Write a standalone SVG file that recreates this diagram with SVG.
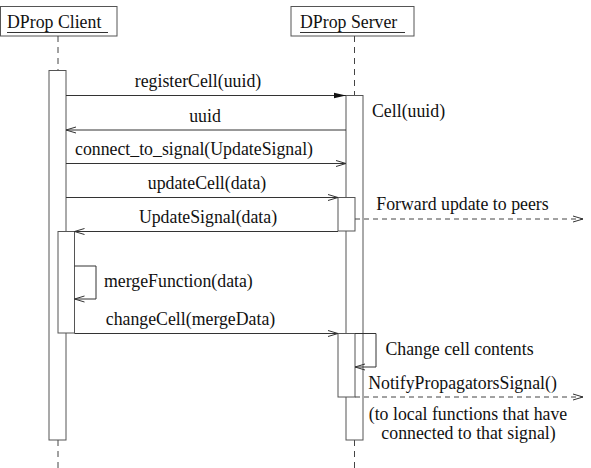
<svg xmlns="http://www.w3.org/2000/svg" width="591" height="468" viewBox="0 0 591 468">
<style>
text{font-family:"Liberation Serif","Times New Roman",serif;font-size:17.8px;fill:#111}
.box{fill:#fff;stroke:#555;stroke-width:1}
.act{fill:#fff;stroke:#555;stroke-width:1}
.life{stroke:#444;stroke-width:1;stroke-dasharray:6 5;fill:none}
.msg{stroke:#333;stroke-width:1;fill:none}
.dash{stroke:#444;stroke-width:1;fill:none;stroke-dasharray:5 4}
.ul{stroke:#333;stroke-width:1}
</style>
<defs>
<marker id="open" markerUnits="userSpaceOnUse" markerWidth="12" markerHeight="8" refX="11" refY="4" orient="auto">
<path d="M1,1 L11,4 L1,7" fill="none" stroke="#333" stroke-width="1"/>
</marker>
<marker id="filled" markerUnits="userSpaceOnUse" markerWidth="13" markerHeight="8" refX="12" refY="4" orient="auto">
<path d="M0,1.3 L12,4 L0,6.7 Z" fill="#111" stroke="none"/>
</marker>
</defs>
<rect width="591" height="468" fill="#fff"/>
<g id="client">
<rect class="box" x="0.5" y="6.5" width="116.5" height="29.5"/>
<text x="7" y="28">DProp Client</text>
<line class="ul" x1="7" y1="32.5" x2="108" y2="32.5"/>
<line class="life" x1="58" y1="36" x2="58" y2="70"/>
<line class="life" x1="58" y1="440" x2="58" y2="468"/>
<rect class="act" x="49" y="70.5" width="17" height="369.5"/>
<rect class="act" x="58" y="231.5" width="16.5" height="101.5"/>
</g>
<g id="server">
<rect class="box" x="291" y="6.5" width="123" height="29.5"/>
<text x="300" y="28">DProp Server</text>
<line class="ul" x1="300" y1="32.5" x2="405" y2="32.5"/>
<line class="life" x1="354.5" y1="36" x2="354.5" y2="95"/>
<line class="life" x1="354.5" y1="440" x2="354.5" y2="468"/>
<rect class="act" x="346" y="95.5" width="17" height="344.5"/>
<rect class="act" x="338" y="197.5" width="17" height="33.5"/>
<rect class="act" x="338" y="333.5" width="17" height="63.5"/>
</g>
<g id="connectors">
<line class="msg" x1="66" y1="95.5" x2="346" y2="95.5" marker-end="url(#filled)"/>
<line class="msg" x1="346" y1="130" x2="66" y2="130" marker-end="url(#open)"/>
<line class="msg" x1="66" y1="163.5" x2="346" y2="163.5" marker-end="url(#open)"/>
<line class="msg" x1="66" y1="197.5" x2="338" y2="197.5" marker-end="url(#open)"/>
<line class="msg" x1="338" y1="231.5" x2="74.5" y2="231.5" marker-end="url(#open)"/>
<line class="dash" x1="355" y1="219" x2="583" y2="219" marker-end="url(#open)"/>
<polyline class="msg" points="74.5,266 96,266 96,299 74.5,299" marker-end="url(#open)"/>
<line class="msg" x1="74.5" y1="333.5" x2="338" y2="333.5" marker-end="url(#open)"/>
<polyline class="msg" points="355,333.5 376,333.5 376,367 355,367" marker-end="url(#open)"/>
<line class="dash" x1="355" y1="397" x2="583" y2="397" marker-end="url(#open)"/>
</g>
<g id="labels">
<text x="198" y="87" text-anchor="middle">registerCell(uuid)</text>
<text x="205" y="121.5" text-anchor="middle">uuid</text>
<text x="194" y="155" text-anchor="middle">connect_to_signal(UpdateSignal)</text>
<text x="207" y="189" text-anchor="middle">updateCell(data)</text>
<text x="208" y="223" text-anchor="middle">UpdateSignal(data)</text>
<text x="104" y="287">mergeFunction(data)</text>
<text x="190.5" y="325" text-anchor="middle">changeCell(mergeData)</text>
<text x="372" y="117">Cell(uuid)</text>
<text x="462.5" y="210" text-anchor="middle">Forward update to peers</text>
<text x="459.5" y="355" text-anchor="middle">Change cell contents</text>
<text x="462.5" y="389" text-anchor="middle">NotifyPropagatorsSignal()</text>
<text x="468" y="420" text-anchor="middle">(to local functions that have</text>
<text x="468.5" y="439" text-anchor="middle">connected to that signal)</text>
</g>
</svg>
